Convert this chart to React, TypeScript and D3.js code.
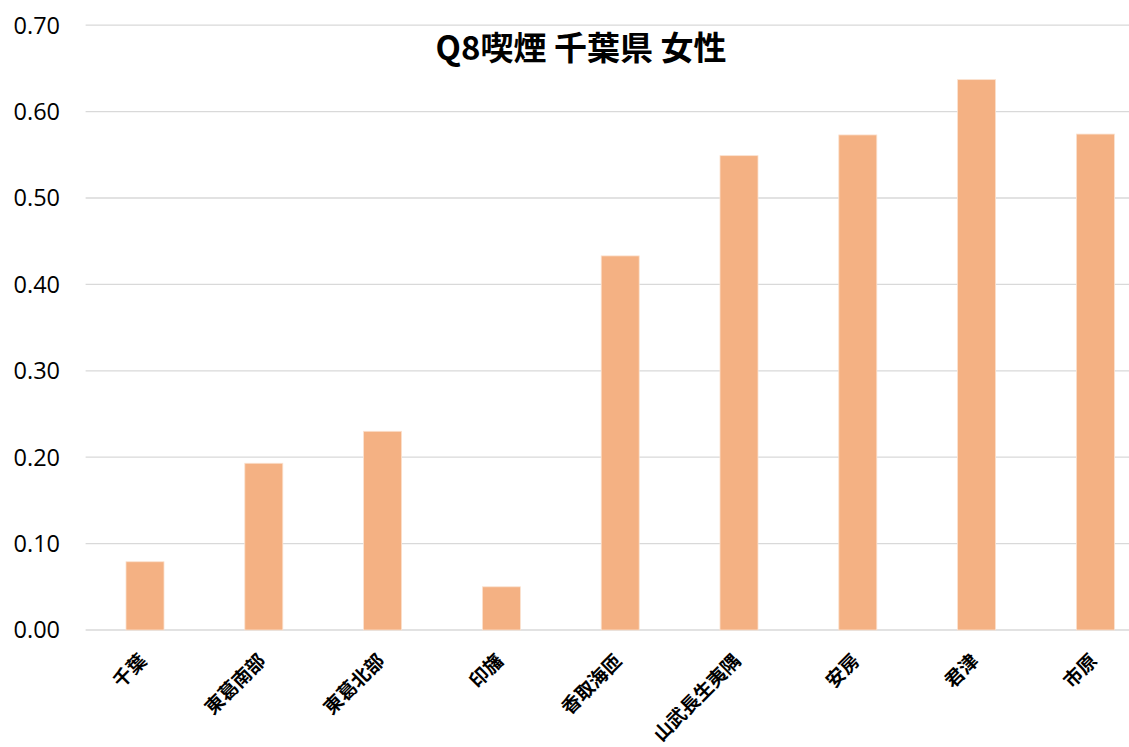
import React from "react";
import * as d3 from "d3";

const categories = ["千葉", "東葛南部", "東葛北部", "印旛", "香取海匝", "山武長生夷隅", "安房", "君津", "市原"];
const values = [0.079, 0.193, 0.23, 0.05, 0.433, 0.549, 0.573, 0.637, 0.574];
const yTicks = [0, 0.1, 0.2, 0.3, 0.4, 0.5, 0.6, 0.7];
const title = "Q8喫煙 千葉県 女性";

const W = 1129;
const H = 747;
const plotLeft = 85.6;
const plotRight = 1154.8;
const plotTop = 25.2;
const plotBottom = 630;

export default function App() {
  const x = d3
    .scaleBand<string>()
    .domain(categories)
    .range([plotLeft, plotRight])
    .paddingInner(0.68)
    .paddingOuter(0.34);
  const y = d3.scaleLinear().domain([0, 0.7]).range([plotBottom, plotTop]);

  return (
    <svg
      width={W}
      height={H}
      style={{ position: "absolute", left: 0, top: 0, background: "#fff" }}
    >
      {yTicks.map((t) => (
        <g key={t}>
          <line
            x1={plotLeft}
            x2={W}
            y1={y(t)}
            y2={y(t)}
            stroke="#d9d9d9"
            strokeWidth={1.3}
          />
          <text
            x={60}
            y={y(t)}
            dy="0.36em"
            textAnchor="end"
            fontFamily="'Open Sans', 'Noto Sans', sans-serif"
            fontSize={23.5}
            fill="#000"
          >
            {t.toFixed(2)}
          </text>
        </g>
      ))}
      {categories.map((c, i) => (
        <rect
          key={c}
          x={x(c)}
          y={y(values[i])}
          width={x.bandwidth()}
          height={y(0) - y(values[i])}
          fill="#F4B183"
          stroke="#fbe2d0"
          strokeWidth={0.8}
        />
      ))}
      {categories.map((c) => {
        const cx = (x(c) as number) + x.bandwidth() / 2 + 3;
        const ty = 662;
        return (
          <text
            key={c}
            x={cx}
            y={ty}
            transform={`rotate(-45, ${cx}, ${ty})`}
            textAnchor="end"
            fontFamily="'Noto Sans CJK JP', sans-serif"
            fontWeight="bold"
            fontSize={19}
            fill="#000"
          >
            {c}
          </text>
        );
      })}
      <text
        x={581}
        y={60}
        textAnchor="middle"
        fontFamily="'Noto Sans CJK JP', sans-serif"
        fontWeight="bold"
        fontSize={33}
        fill="#000"
      >
        {title}
      </text>
    </svg>
  );
}
